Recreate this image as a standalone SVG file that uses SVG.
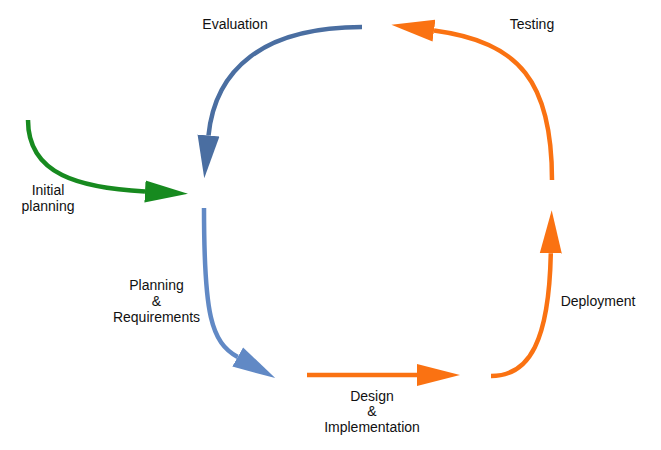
<svg xmlns="http://www.w3.org/2000/svg" width="661" height="450" viewBox="0 0 661 450">
<style>
.c{fill:none;stroke-width:4.5;stroke-linecap:butt}
.db{stroke:#4A6EA1}.lb{stroke:#6189C5}.gr{stroke:#178A1F}.or{stroke:#FA7212}
text{font-family:"Liberation Sans",Arial,sans-serif;font-size:14px;fill:#111;text-anchor:middle}
</style>
<defs>
<marker id="hDb" markerUnits="userSpaceOnUse" viewBox="0 -12 46 24" refX="0" refY="0" markerWidth="46" markerHeight="24" orient="auto"><path d="M0,-11 L43,0 L0,11 Z" fill="#4A6EA1"/></marker>
<marker id="hLb" markerUnits="userSpaceOnUse" viewBox="0 -12 46 24" refX="0" refY="0" markerWidth="46" markerHeight="24" orient="auto"><path d="M0,-11 L43,0 L0,11 Z" fill="#6189C5"/></marker>
<marker id="hGr" markerUnits="userSpaceOnUse" viewBox="0 -12 46 24" refX="0" refY="0" markerWidth="46" markerHeight="24" orient="auto"><path d="M0,-11 L43,0 L0,11 Z" fill="#178A1F"/></marker>
<marker id="hOr" markerUnits="userSpaceOnUse" viewBox="0 -12 46 24" refX="0" refY="0" markerWidth="46" markerHeight="24" orient="auto"><path d="M0,-11 L43,0 L0,11 Z" fill="#FA7212"/></marker>
</defs>
<g id="connectors">
<path id="evaluation" class="c db" d="M362,27 C262,27 215,70 208.5,135.5" marker-end="url(#hDb)"/>
<path id="initial" class="c gr" d="M28,120 C28,175 80,188 145,191.5" marker-end="url(#hGr)"/>
<path id="planning" class="c lb" d="M204,208 C204,315 211,342 237.7,357" marker-end="url(#hLb)"/>
<path id="design" class="c or" d="M307,375 L417,375" marker-end="url(#hOr)"/>
<path id="deployment" class="c or" d="M491,376 C530,376 549,340 550.8,253.3" marker-end="url(#hOr)"/>
<path id="testing" class="c or" d="M552,180 C552,82 520,42 434,30.5" marker-end="url(#hOr)"/>
</g>
<g id="labels">
<g id="label-evaluation"><text x="235" y="29">Evaluation</text></g>
<g id="label-testing"><text x="532" y="29">Testing</text></g>
<g id="label-initial"><text x="48" y="195">Initial</text><text x="48" y="211">planning</text></g>
<g id="label-planning"><text x="156.5" y="290">Planning</text><text x="156.5" y="306">&amp;</text><text x="156.5" y="322">Requirements</text></g>
<g id="label-design"><text x="372" y="401">Design</text><text x="372" y="416">&amp;</text><text x="372" y="432">Implementation</text></g>
<g id="label-deployment"><text x="598" y="306">Deployment</text></g>
</g>
</svg>
